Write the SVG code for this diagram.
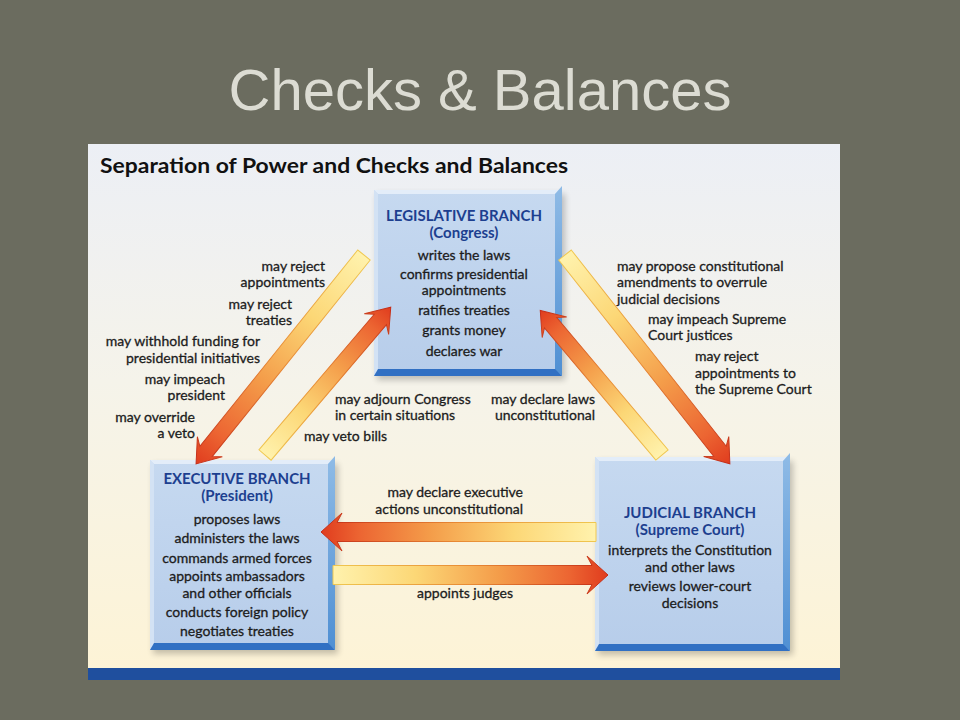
<svg xmlns="http://www.w3.org/2000/svg" width="960" height="720" viewBox="0 0 960 720">
<defs>
<linearGradient id="panelGrad" x1="0" y1="0" x2="0" y2="1">
<stop offset="0" stop-color="#eceff5"/>
<stop offset="0.45" stop-color="#f5f3ea"/>
<stop offset="1" stop-color="#fdf3d6"/>
</linearGradient>
<linearGradient id="faceGrad" x1="0" y1="0" x2="0" y2="1">
<stop offset="0" stop-color="#c6d9f0"/>
<stop offset="1" stop-color="#b7cdea"/>
</linearGradient>
<linearGradient id="rightGrad" x1="0" y1="0" x2="0" y2="1">
<stop offset="0" stop-color="#8fbbe6"/>
<stop offset="1" stop-color="#4f8fd3"/>
</linearGradient>
<linearGradient id="arrowGrad" x1="0" y1="0" x2="1" y2="0">
<stop offset="0" stop-color="#fff2ad"/>
<stop offset="0.3" stop-color="#fcd776"/>
<stop offset="0.6" stop-color="#f49d4a"/>
<stop offset="0.86" stop-color="#ec6532"/>
<stop offset="1" stop-color="#e03c1e"/>
</linearGradient>
<linearGradient id="edgeGrad" x1="0" y1="0" x2="1" y2="0">
<stop offset="0" stop-color="#f0c850"/>
<stop offset="0.5" stop-color="#e88a34"/>
<stop offset="1" stop-color="#c42c18"/>
</linearGradient>
<filter id="shadow" x="-10%" y="-10%" width="130%" height="130%">
<feGaussianBlur stdDeviation="3"/>
</filter>
<style>
.title{font-family:"Liberation Sans",Arial,sans-serif;font-size:58px;fill:#dcdcd3;text-anchor:middle}
.sub{font-family:Lato,"Open Sans",sans-serif;font-size:21px;font-weight:bold;fill:#111}
.t{font-family:Lato,"Open Sans",sans-serif;font-size:14px;fill:#1c1c1c;stroke:#1c1c1c;stroke-width:0.3}
.c{text-anchor:middle}
.e{text-anchor:end}
.h{font-family:Lato,"Open Sans",sans-serif;font-size:15px;font-weight:bold;fill:#1d3f8f}
.face{fill:url(#faceGrad)}
.bt{fill:#e3edf9}
.bl{fill:#d3e2f4}
.br{fill:url(#rightGrad)}
.bb{fill:#3170c3}
.shd{fill:#000;opacity:0.22;filter:url(#shadow)}
.arrow{fill:url(#arrowGrad);stroke:url(#edgeGrad);stroke-width:1}
</style>
</defs>
<rect x="0" y="0" width="960" height="720" fill="#6b6c5f"/>
<text class="title" x="480" y="110">Checks &amp; Balances</text>
<rect x="88" y="144" width="752" height="526" fill="url(#panelGrad)"/>
<rect x="88" y="668" width="752" height="12" fill="#1f4f9e"/>
<text class="sub" x="100" y="173" textLength="468" lengthAdjust="spacingAndGlyphs">Separation of Power and Checks and Balances</text>

<g id="legislative">
<rect class="shd" x="377" y="194" width="188" height="186"/>
<rect class="face" x="374" y="190" width="188" height="186"/>
<polygon class="bt" points="374,190 562,190 555,194 378,194"/>
<polygon class="bl" points="374,190 378,194 378,370 374,376"/>
<polygon class="br" points="562,186 562,376 555,370 555,194"/>
<polygon class="bb" points="374,376 562,376 555,369 378,369"/>
<text class="c"><tspan class="h" x="464" y="221">LEGISLATIVE BRANCH</tspan><tspan class="h" x="464" y="238">(Congress)</tspan><tspan class="t" x="464" y="260">writes the laws</tspan><tspan class="t" x="464" y="278.8">confirms presidential</tspan><tspan class="t" x="464" y="295.3">appointments</tspan><tspan class="t" x="464" y="315">ratifies treaties</tspan><tspan class="t" x="464" y="335">grants money</tspan><tspan class="t" x="464" y="356">declares war</tspan></text>
</g>

<g id="executive">
<rect class="shd" x="153" y="464" width="185" height="190"/>
<rect class="face" x="150" y="460" width="185" height="190"/>
<polygon class="bt" points="150,460 335,460 328,464 154,464"/>
<polygon class="bl" points="150,460 154,464 154,644 150,650"/>
<polygon class="br" points="335,456 335,650 328,644 328,464"/>
<polygon class="bb" points="150,650 335,650 328,643 154,643"/>
<text class="c"><tspan class="h" x="237" y="484">EXECUTIVE BRANCH</tspan><tspan class="h" x="237" y="501">(President)</tspan><tspan class="t" x="237" y="524">proposes laws</tspan><tspan class="t" x="237" y="543">administers the laws</tspan><tspan class="t" x="237" y="563">commands armed forces</tspan><tspan class="t" x="237" y="581.3">appoints ambassadors</tspan><tspan class="t" x="237" y="597.8">and other officials</tspan><tspan class="t" x="237" y="617">conducts foreign policy</tspan><tspan class="t" x="237" y="636">negotiates treaties</tspan></text>
</g>

<g id="judicial">
<rect class="shd" x="598" y="461" width="195" height="194"/>
<rect class="face" x="595" y="457" width="195" height="194"/>
<polygon class="bt" points="595,457 790,457 783,461 599,461"/>
<polygon class="bl" points="595,457 599,461 599,645 595,651"/>
<polygon class="br" points="790,453 790,651 783,645 783,461"/>
<polygon class="bb" points="595,651 790,651 783,644 599,644"/>
<text class="c"><tspan class="h" x="690" y="518">JUDICIAL BRANCH</tspan><tspan class="h" x="690" y="535">(Supreme Court)</tspan><tspan class="t" x="690" y="555.3">interprets the Constitution</tspan><tspan class="t" x="690" y="571.8">and other laws</tspan><tspan class="t" x="690" y="591.3">reviews lower-court</tspan><tspan class="t" x="690" y="607.8">decisions</tspan></text>
</g>

<g id="connectors">
<polygon class="arrow" transform="translate(364,255) rotate(128.8)" points="0,-8 252,-8 246,-16 268,0 246,16 252,8 0,8"/>
<polygon class="arrow" transform="translate(265,455) rotate(-49.6)" points="0,-8 178,-8 172,-16 194,0 172,16 178,8 0,8"/>
<polygon class="arrow" transform="translate(565,255) rotate(51.7)" points="0,-8 250,-8 244,-16 266,0 244,16 250,8 0,8"/>
<polygon class="arrow" transform="translate(662,455) rotate(-130.1)" points="0,-8 173,-8 167,-16 189,0 167,16 173,8 0,8"/>
<polygon class="arrow" transform="translate(596,532) rotate(180)" points="0,-9.5 259,-9.5 254,-19 275,0 254,19 259,9.5 0,9.5"/>
<polygon class="arrow" transform="translate(333,575)" points="0,-9.5 259,-9.5 254,-19 275,0 254,19 259,9.5 0,9.5"/>
</g>

<g id="labels">
<text class="t e"><tspan x="325" y="270.8">may reject</tspan><tspan x="325" y="287.3">appointments</tspan></text>
<text class="t e"><tspan x="292" y="308.8">may reject</tspan><tspan x="292" y="325.3">treaties</tspan></text>
<text class="t e"><tspan x="260" y="346.3">may withhold funding for</tspan><tspan x="260" y="362.8">presidential initiatives</tspan></text>
<text class="t e"><tspan x="225" y="383.8">may impeach</tspan><tspan x="225" y="400.3">president</tspan></text>
<text class="t e"><tspan x="195" y="421.8">may override</tspan><tspan x="195" y="438.3">a veto</tspan></text>
<text class="t"><tspan x="335" y="403.8">may adjourn Congress</tspan><tspan x="335" y="420.3">in certain situations</tspan></text>
<text class="t" x="304" y="441">may veto bills</text>
<text class="t e"><tspan x="595" y="403.8">may declare laws</tspan><tspan x="595" y="420.3">unconstitutional</tspan></text>
<text class="t"><tspan x="617" y="270.5">may propose constitutional</tspan><tspan x="617" y="287">amendments to overrule</tspan><tspan x="617" y="303.5">judicial decisions</tspan></text>
<text class="t"><tspan x="648" y="323.8">may impeach Supreme</tspan><tspan x="648" y="340.3">Court justices</tspan></text>
<text class="t"><tspan x="695" y="361">may reject</tspan><tspan x="695" y="377.5">appointments to</tspan><tspan x="695" y="394">the Supreme Court</tspan></text>
<text class="t e"><tspan x="523" y="497.3">may declare executive</tspan><tspan x="523" y="513.8">actions unconstitutional</tspan></text>
<text class="t c" x="465" y="598">appoints judges</text>
</g>
</svg>
